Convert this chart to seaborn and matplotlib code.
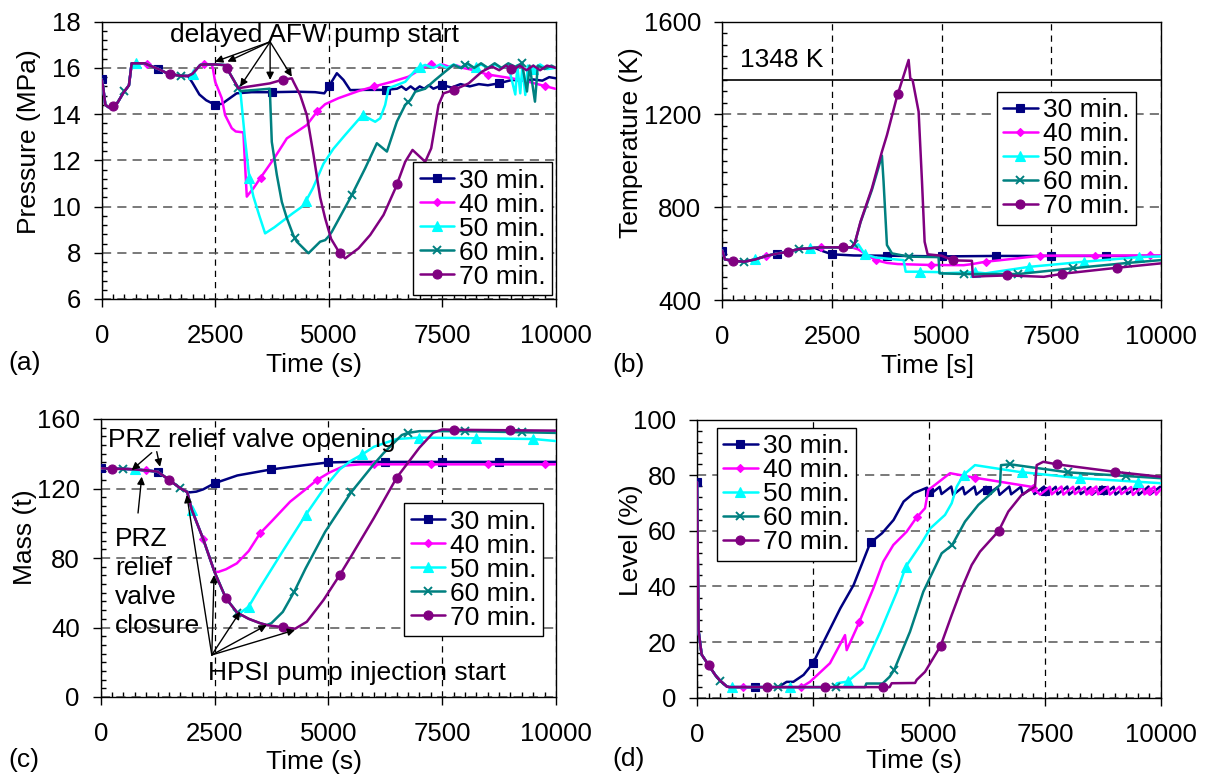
import numpy as np
import pandas as pd
import matplotlib
matplotlib.use("Agg")
import matplotlib.pyplot as plt
import seaborn as sns
from matplotlib.ticker import MultipleLocator
from matplotlib.lines import Line2D

# ---------------- data ----------------
RUNS = ["30 min.", "40 min.", "50 min.", "60 min.", "70 min."]
COLORS = ["#000080", "#FF00FF", "#00FFFF", "#008080", "#800080"]
MARKERS = ["s", "D", "^", "x", "o"]
MARKER_SIZES = [6, 4.5, 7, 6, 6.5]
MARKER_OFFSETS = [0, 1000, 750, 500, 250]

# (a) pressure, MPa
A_BASE = [(0, 15.5), (30, 15.2), (80, 14.4), (150, 14.3), (250, 14.35), (350, 14.5), (470, 14.9),
          (600, 15.25), (660, 16.2), (700, 16.2), (950, 16.2), (1000, 16.15), (1250, 15.95),
          (1460, 15.75), (1725, 15.66), (1900, 15.65)]
A_30 = [(2000, 15.35), (2150, 14.85), (2300, 14.6), (2500, 14.4), (2650, 14.45), (2970, 14.9),
        (3300, 14.95), (3750, 14.95), (4300, 14.97), (4700, 14.95), (4900, 14.9), (5000, 15.2),
        (5176, 15.77), (5322, 15.48), (5470, 15.04), (5800, 15.05), (6250, 15.05), (6500, 15.1),
        (6600, 15.2), (6700, 15.05), (6800, 15.2), (6900, 15.05), (7000, 15.2), (7100, 15.1),
        (7200, 15.25), (7300, 15.1), (7500, 15.26), (7700, 15.15), (7900, 15.3), (8100, 15.2),
        (8300, 15.3), (8500, 15.25), (8736, 15.33), (9031, 15.48), (9300, 15.45), (9500, 15.5),
        (9700, 15.45), (9850, 15.6), (10000, 15.55)]
A_RISE = [(2000, 15.75), (2170, 16.13), (2250, 16.15), (2420, 16.15)]
A_40 = [(2445, 16.0), (2496, 15.41), (2643, 14.69), (2716, 13.96), (2863, 13.39), (2950, 13.25),
        (3119, 13.21), (3150, 12.0), (3194, 10.43), (3260, 10.6), (3340, 10.79), (3487, 11.22),
        (3800, 12.1), (4075, 12.95), (4515, 13.53), (4736, 14.1), (4919, 14.43), (5211, 14.69),
        (5652, 15.0), (5982, 15.19), (6388, 15.4), (6753, 15.62), (7048, 15.98), (7254, 16.17),
        (7400, 16.05), (7500, 16.15), (7650, 16.05), (7800, 16.12), (7950, 16.0), (8200, 15.9),
        (8480, 15.72), (9031, 15.55), (9400, 15.4), (9727, 15.23), (10000, 15.09)]
A_LATE = [(2500, 16.15), (2730, 16.12), (2750, 16.0), (3009, 15.12)]
A_50 = [(3057, 14.9), (3150, 13.0), (3251, 11.22), (3340, 10.43), (3470, 9.6), (3597, 8.84),
        (3800, 9.1), (4000, 9.4), (4200, 9.7), (4441, 10.04), (4650, 10.8), (4881, 11.85),
        (5100, 12.5), (5359, 13.1), (5741, 13.96), (6020, 13.67), (6130, 13.82), (6240, 14.4),
        (6313, 15.12), (6681, 15.4), (6938, 15.98), (7121, 16.13), (7300, 16.0), (7450, 16.15),
        (7600, 16.0), (7750, 16.15), (7900, 16.0), (8050, 16.15), (8200, 16.0), (8350, 16.15),
        (8500, 16.0), (8650, 16.15), (8800, 16.0), (8950, 16.1), (9104, 14.85), (9150, 16.1),
        (9213, 14.9), (9260, 16.1), (9324, 14.83), (9380, 16.1), (9500, 15.95), (9650, 16.15),
        (9800, 15.95), (10000, 16.0)]
A_60 = [(3060, 15.0), (3400, 15.05), (3700, 15.1), (3744, 12.8), (3855, 11.37), (3965, 10.2),
        (4075, 9.5), (4221, 8.74), (4295, 8.48), (4551, 7.98), (4808, 8.48), (4920, 8.55),
        (4991, 8.7), (5066, 8.91), (5469, 10.36), (5800, 11.66), (6057, 12.74), (6278, 12.38),
        (6498, 13.68), (6681, 14.4), (6791, 14.6), (6901, 14.97), (7121, 15.1), (7341, 15.48),
        (7561, 15.84), (7745, 16.13), (7900, 16.0), (8050, 16.2), (8200, 16.0), (8350, 16.2),
        (8500, 16.0), (8650, 16.2), (8800, 16.0), (8950, 16.2), (9100, 16.05), (9250, 16.2),
        (9361, 14.98), (9420, 16.1), (9537, 14.54), (9600, 16.1), (9750, 15.95), (9900, 16.1),
        (10000, 16.0)]
A_70 = [(3229, 15.19), (3700, 15.33), (3965, 15.48), (4185, 15.55), (4221, 15.4), (4368, 14.83),
        (4515, 13.96), (4662, 12.24), (4808, 10.4), (4919, 9.49), (5050, 8.6), (5227, 8.02),
        (5359, 7.76), (5652, 8.19), (5910, 8.77), (6204, 9.64), (6476, 10.84), (6681, 11.94),
        (6842, 12.45), (7121, 11.94), (7253, 12.52), (7415, 14.4), (7525, 14.9), (7745, 15.04),
        (8077, 15.33), (8370, 15.84), (8590, 16.06), (8750, 15.9), (8900, 16.1), (9050, 15.9),
        (9200, 16.1), (9350, 15.9), (9500, 16.1), (9650, 15.9), (9800, 16.1), (10000, 16.0)]

# (b) temperature, K
B_BASE = [(0, 613), (60, 575), (250, 569), (500, 565), (750, 575), (1000, 590), (1250, 600),
          (1500, 608), (1750, 620), (2000, 623), (2100, 625)]
B_30 = [(2300, 610), (2500, 597), (3000, 592), (3750, 591), (5000, 588), (6250, 590), (10000, 590)]
B_RISE = [(2250, 627), (2750, 627), (2950, 627)]
B_40 = [(3100, 618), (3250, 600), (3500, 572), (3750, 560), (4000, 555), (4750, 551), (5500, 550),
        (5700, 555), (6000, 565), (6500, 575), (7253, 591), (10000, 592)]
B_50 = [(3100, 640), (3250, 597), (3500, 583), (4132, 572), (4180, 522), (4500, 522), (4950, 520),
        (5000, 515), (5750, 520), (6000, 515), (7000, 543), (8250, 565), (9500, 585), (10000, 588)]
B_60 = [(3020, 645), (3151, 735), (3411, 875), (3639, 1022), (3676, 910), (3753, 637), (3867, 601),
        (4250, 587), (4930, 585), (4950, 515), (5500, 512), (6750, 512), (8000, 537), (9250, 560),
        (10000, 572)]
B_70 = [(3020, 645), (3151, 738), (3411, 882), (3639, 1040), (3753, 1111), (3982, 1277),
        (4247, 1435), (4285, 1356), (4338, 1348), (4475, 1212), (4552, 910), (4612, 651),
        (4680, 597), (5000, 591), (5250, 571), (5690, 569), (5710, 500), (6000, 503), (6500, 506),
        (7329, 500), (7750, 513), (9000, 539), (10000, 558)]
LIMIT_T = 1348

# (c) mass, t
C_BASE = [(0, 131.6), (250, 131.4), (500, 131.3), (750, 131.0), (1000, 130.4), (1250, 129.7),
          (1500, 125.0), (1750, 120.1), (1900, 118.0)]
C_30 = [(1963, 117.8), (2100, 118.2), (2250, 119.5), (2500, 123.0), (3000, 127.5), (3750, 131.0),
        (4500, 133.5), (5000, 135.0), (5500, 135.3), (10000, 135.3)]
C_DROP = [(2000, 107.8), (2250, 91.0), (2500, 72.0)]
C_40 = [(2585, 72.0), (2750, 73.5), (2989, 76.9), (3250, 84.0), (3500, 94.2), (3750, 101.0),
        (4160, 112.4), (4500, 119.5), (4750, 124.9), (5025, 129.2), (5369, 133.2), (5700, 133.9),
        (10000, 133.9)]
C_LATE = [(2750, 56.8), (3000, 48.5)]
C_50 = [(3060, 48.3), (3250, 52.0), (3500, 63.0), (4000, 84.0), (4500, 104.7), (4930, 121.0),
        (5250, 131.0), (5500, 136.0), (5750, 139.7), (6000, 144.0), (6500, 148.5), (7000, 149.3),
        (9500, 148.5), (10000, 147.3)]
C_LATEST = [(3250, 45.0), (3500, 42.5), (3648, 41.4)]
C_60 = [(3750, 42.5), (4000, 49.0), (4250, 60.6), (4500, 74.0), (4930, 95.1), (5500, 117.8),
        (6000, 134.0), (6211, 140.3), (6614, 150.8), (6750, 152.0), (7000, 153.0), (8000, 153.0),
        (10000, 152.0)]
C_70 = [(3750, 41.0), (4000, 40.2), (4270, 39.3), (4527, 43.3), (4893, 55.8), (5250, 70.2),
        (5500, 81.0), (6000, 103.0), (6500, 126.2), (7000, 143.5), (7300, 152.0), (7500, 154.0),
        (7750, 153.8), (10000, 153.3)]

# (d) level, %
D_BASE = [(0, 77.5), (34, 24.0), (100, 15.5), (250, 11.7), (400, 8.0), (500, 6.1), (645, 4.0),
          (700, 3.8)]
D_30 = [(1750, 3.8), (1933, 5.7), (2076, 5.7), (2297, 8.2), (2500, 12.4), (2729, 20.1),
        (3088, 32.1), (3375, 40.5), (3735, 55.7), (3987, 59.1), (4237, 63.9), (4453, 70.5),
        (4668, 73.5), (4957, 75.5)]
D_30_SAW = [(5020, 73.0), (5230, 75.8), (5270, 73.2), (5480, 75.9), (5520, 72.9), (5730, 75.7),
            (5770, 73.1), (5980, 75.9), (6020, 73.0), (6230, 75.8), (6270, 73.2), (6480, 75.7),
            (6520, 72.9), (6730, 75.9), (6770, 73.1), (6980, 75.8), (7020, 73.0), (7230, 75.7),
            (7270, 73.2), (7480, 75.9), (7520, 72.8), (7730, 75.8), (7770, 73.1), (7980, 75.9),
            (8020, 73.0), (8230, 75.8), (8270, 73.2), (8480, 75.7), (8520, 73.0), (8730, 75.9),
            (8770, 73.1), (8980, 75.8), (9020, 73.0), (9230, 75.8), (9270, 73.2), (9480, 75.7),
            (9520, 72.9), (9730, 75.9), (9770, 73.1), (9980, 75.8)]
D_40 = [(2250, 3.8), (2435, 5.7), (2866, 12.4), (3190, 22.5), (3226, 17.1), (3477, 26.4),
        (3800, 39.3), (4015, 48.9), (4231, 54.9), (4519, 59.7), (4720, 64.5), (4914, 68.1),
        (4985, 74.7), (5129, 76.5), (5453, 80.7), (5976, 79.1), (7213, 75.8)]
D_40_SAW = [(7395, 73.0), (7605, 75.8), (7645, 73.1), (7855, 75.9), (7895, 73.0), (8105, 75.8),
            (8145, 73.2), (8355, 75.7), (8395, 73.0), (8605, 75.9), (8645, 73.1), (8855, 75.8),
            (8895, 73.0), (9105, 75.8), (9145, 73.2), (9355, 75.7), (9395, 72.9), (9605, 75.9),
            (9645, 73.1), (9855, 75.8), (9895, 73.0), (10000, 75.0)]
D_50 = [(2950, 3.8), (3017, 5.2), (3245, 5.8), (3590, 10.6), (3950, 23.7), (4310, 38.1),
        (4500, 47.1), (4815, 54.9), (5030, 60.9), (5345, 65.7), (5489, 69.9), (5596, 75.8),
        (5740, 80.0), (5991, 83.6), (6925, 81.2), (8250, 78.9), (10000, 77.1)]
D_60 = [(3620, 3.8), (3650, 5.1), (4000, 5.1), (4150, 7.5), (4250, 10.0), (4590, 23.7),
        (4877, 38.1), (5273, 51.9), (5500, 54.9), (5776, 63.3), (6063, 69.3), (6422, 74.7),
        (6530, 76.5), (6552, 83.6), (6746, 83.9), (8002, 81.0), (10000, 78.9)]
D_70 = [(4150, 3.8), (4196, 5.2), (4700, 5.3), (4734, 6.4), (4914, 9.3), (5250, 18.6),
        (5489, 29.7), (5705, 39.3), (5920, 47.7), (6099, 52.5), (6500, 59.9), (6709, 66.9),
        (6997, 72.9), (7284, 75.8), (7321, 83.6), (7463, 84.8), (7750, 83.9), (9000, 81.2),
        (10000, 79.4)]

PANEL_A = [A_BASE + A_30, A_BASE + A_RISE + A_40, A_BASE + A_RISE + A_LATE + A_50,
           A_BASE + A_RISE + A_LATE + A_60, A_BASE + A_RISE + A_LATE + A_70]
PANEL_B = [B_BASE + B_30, B_BASE + B_RISE + B_40, B_BASE + B_RISE + B_50,
           B_BASE + B_RISE + B_60, B_BASE + B_RISE + B_70]
PANEL_C = [C_BASE + C_30, C_BASE + C_DROP + C_40, C_BASE + C_DROP + C_LATE + C_50,
           C_BASE + C_DROP + C_LATE + C_LATEST + C_60, C_BASE + C_DROP + C_LATE + C_LATEST + C_70]
PANEL_D = [D_BASE + D_30 + D_30_SAW, D_BASE + D_40 + D_40_SAW, D_BASE + D_50,
           D_BASE + D_60, D_BASE + D_70]

# ---------------- style ----------------
sns.set_theme(style="ticks")
plt.rcParams["font.family"] = ["Liberation Sans", "DejaVu Sans"]
plt.rcParams["axes.linewidth"] = 1.0
plt.rcParams["text.color"] = "black"
plt.rcParams["axes.labelcolor"] = "black"
plt.rcParams["xtick.color"] = "black"
plt.rcParams["ytick.color"] = "black"
plt.rcParams["axes.edgecolor"] = "black"

W, H = 1208, 774
FS_TICK = 18.5
FS_TEXT = 19
LW = 1.8

fig = plt.figure(figsize=(W / 100, H / 100), dpi=100)


def add_axes(l, t, r, b):
    ax = fig.add_axes([l / W, 1 - b / H, (r - l) / W, (b - t) / H])
    ax._px = (l, t, r, b)
    return ax


def frac(ax, x, y):
    l, t, r, b = ax._px
    return (x - l) / (r - l), (b - y) / (b - t)


def draw_panel(ax, series, ylim, ymaj, ymin, ylabel, xlabel, ylab_px, xlab_px, leg_px):
    for i, pts in enumerate(series):
        df = pd.DataFrame(pts, columns=["t", "v"])
        sns.lineplot(data=df, x="t", y="v", ax=ax, color=COLORS[i], lw=LW, sort=False,
                     estimator=None, legend=False, zorder=3 + i)
        mt = np.arange(MARKER_OFFSETS[i], 9999, 1250)
        mv = np.interp(mt, df["t"].to_numpy(), df["v"].to_numpy())
        ax.plot(mt, mv, ls="none", marker=MARKERS[i], ms=MARKER_SIZES[i], color=COLORS[i],
                mec=COLORS[i], mew=1.4 if MARKERS[i] == "x" else 0.8, zorder=3 + i)
    ax.set_xlim(0, 10000)
    ax.set_ylim(*ylim)
    ax.xaxis.set_major_locator(MultipleLocator(2500))
    ax.xaxis.set_minor_locator(MultipleLocator(250))
    ax.yaxis.set_major_locator(MultipleLocator(ymaj))
    ax.yaxis.set_minor_locator(MultipleLocator(ymin))
    ax.tick_params(which="major", direction="out", length=6, width=1, color="black",
                   labelsize=FS_TICK, labelcolor="black")
    ax.tick_params(axis="x", which="major", pad=12)
    ax.tick_params(axis="y", which="major", pad=9)
    ax.tick_params(which="minor", direction="in", length=3.6, width=1, color="black")
    ax.yaxis.grid(True, which="major", ls=(0, (6, 4)), color="#555555", lw=1.1)
    ax.xaxis.grid(True, which="major", ls=(0, (5, 4)), color="black", lw=0.9)
    ax.set_axisbelow(True)
    for s in ax.spines.values():
        s.set_visible(True)
        s.set_color("black")
        s.set_linewidth(1.0)
    ax.set_ylabel(ylabel, fontsize=FS_TEXT, color="black")
    ax.yaxis.set_label_coords(*frac(ax, *ylab_px))
    ax.yaxis.label.set_verticalalignment("center")
    ax.set_xlabel(xlabel, fontsize=FS_TEXT, color="black")
    ax.xaxis.set_label_coords(*frac(ax, *xlab_px))
    ax.xaxis.label.set_verticalalignment("center")
    handles = [Line2D([0], [0], color=c, lw=LW, marker=m, ms=s, mec=c,
                      mew=1.4 if m == "x" else 0.8)
               for c, m, s in zip(COLORS, MARKERS, MARKER_SIZES)]
    leg = ax.legend(handles, RUNS, loc="upper left",
                    bbox_to_anchor=(leg_px[0] / W, 1 - leg_px[1] / H),
                    bbox_transform=fig.transFigure, frameon=True, fancybox=False,
                    edgecolor="black", framealpha=1, fontsize=FS_TEXT, handlelength=1.3,
                    handletextpad=0.2, labelspacing=0.0, borderpad=0.25, borderaxespad=0,
                    labelcolor="black")
    leg.get_frame().set_linewidth(1.0)
    leg.set_zorder(20)


def arrow(ax, src, dst):
    ax.annotate("", xy=dst, xytext=src,
                arrowprops=dict(arrowstyle="-|>", color="black", lw=1, mutation_scale=11,
                                shrinkA=0, shrinkB=0), zorder=15)


# (a)
ax_a = add_axes(101.7, 21.7, 556, 299)
draw_panel(ax_a, PANEL_A, (6, 18), 2, 0.4, "Pressure (MPa)", "Time (s)",
           (29, 142), (314, 365), (413, 162))
ax_a.text(1504, 17.42, "delayed AFW pump start", fontsize=FS_TEXT, ha="left", va="center",
          color="black", zorder=16)
for dst in [(2496, 16.27), (2767, 16.27), (3046, 15.19), (3707, 15.48), (4185, 15.62)]:
    arrow(ax_a, (3707, 17.13), dst)

# (b)
ax_b = add_axes(722.3, 21.7, 1161, 300)
draw_panel(ax_b, PANEL_B, (400, 1600), 400, 50, "Temperature (K)", "Time [s]",
           (631, 143), (927.5, 366), (996.7, 91.7))
ax_b.axhline(LIMIT_T, color="black", lw=1.2, zorder=2.6)
ax_b.text(403, 1435, "1348 K", fontsize=FS_TEXT, ha="left", va="center", color="black")

# (c)
ax_c = add_axes(100.7, 419, 556, 697)
draw_panel(ax_c, PANEL_C, (0, 160), 40, 5, "Mass (t)", "Time (s)",
           (25.3, 537), (314, 762), (404, 503))
ax_c.text(160, 147.9, "PRZ relief valve opening", fontsize=FS_TEXT, ha="left", va="center",
          color="black", zorder=16)
arrow(ax_c, (1121, 140.6), (681, 130.6))
arrow(ax_c, (1231, 141.2), (1303, 132.5))
ax_c.text(314, 65.9, "PRZ\nrelief\nvalve\nclosure", fontsize=FS_TEXT, ha="left", va="center",
          linespacing=1.25, color="black", zorder=16)
arrow(ax_c, (820, 105.9), (901, 126.8))
ax_c.text(2363, 13.8, "HPSI pump injection start", fontsize=FS_TEXT, ha="left", va="center",
          color="black", zorder=16)
for dst in [(1890, 116.3), (2490, 70.2), (3062, 49.1), (3648, 41.4), (4270, 38.6)]:
    arrow(ax_c, (2440, 24.2), dst)

# (d)
ax_d = add_axes(697, 419.5, 1161, 697.7)
draw_panel(ax_d, PANEL_D, (0, 100), 20, 4, "Level (%)", "Time (s)",
           (631, 540), (914, 761), (716.7, 427.7))

for lab, (x, y) in zip(["(a)", "(b)", "(c)", "(d)"],
                       [(25, 363), (629, 364.7), (24, 760), (629, 759)]):
    fig.text(x / W, 1 - y / H, lab, fontsize=FS_TEXT, ha="center", va="center", color="black")

fig.savefig("out.png", dpi=100)
